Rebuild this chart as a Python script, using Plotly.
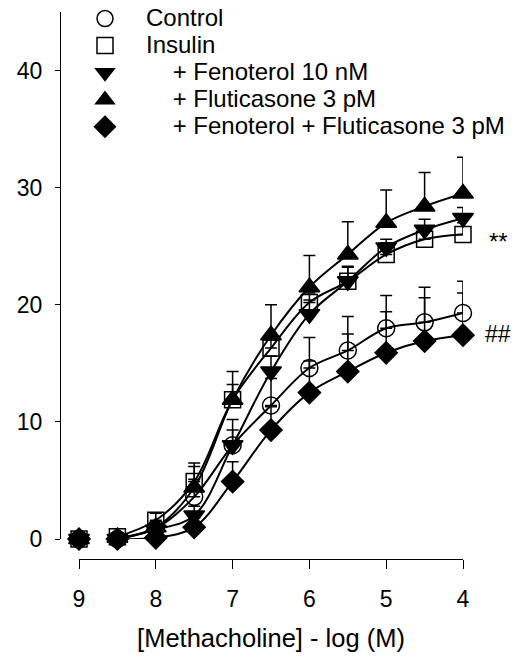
import plotly.graph_objects as go

# ---- data ----
log_conc = [9, 8.5, 8, 7.5, 7, 6.5, 6, 5.5, 5, 4.5, 4]

control = [0, 0, 0.9, 3.6, 8.0, 11.4, 14.6, 16.1, 18.0, 18.5, 19.3]
control_err = [0, 0, 0.4, 1.5, 2.2, 2.3, 2.6, 2.9, 2.8, 3.0, 2.7]

insulin = [0, 0.2, 1.6, 4.9, 11.9, 16.3, 20.2, 22.0, 24.3, 25.6, 26.0]
insulin_err = [0, 0.2, 0.6, 1.6, 1.3, 1.3, 0.8, 1.3, 1.0, 1.0, 1.0]

fenoterol = [0, 0, 0.8, 2.0, 8.0, 14.3, 19.2, 22.0, 24.9, 26.4, 27.4]
fenoterol_err = [0, 0, 0.3, 0.8, 1.3, 1.3, 1.2, 1.2, 0.7, 0.9, 0.9]

fluticasone = [0, 0.1, 1.0, 4.4, 11.9, 17.4, 21.5, 24.3, 27.0, 28.4, 29.5]
fluticasone_err = [0, 0.1, 0.5, 1.8, 2.4, 2.6, 2.7, 2.8, 2.8, 2.9, 3.1]

combo = [0, 0, 0.1, 1.0, 4.9, 9.3, 12.5, 14.3, 15.9, 16.9, 17.4]
combo_err = [0, 0, 0.2, 0.8, 1.7, 2.0, 2.7, 3.2, 3.5, 3.7, 3.6]

labels = ["Control", "Insulin",
          "\u00a0\u00a0\u00a0\u00a0+ Fenoterol 10 nM",
          "\u00a0\u00a0\u00a0\u00a0+ Fluticasone 3 pM",
          "\u00a0\u00a0\u00a0\u00a0+ Fenoterol + Fluticasone 3 pM"]
series = [control, insulin, fenoterol, fluticasone, combo]
errors = [control_err, insulin_err, fenoterol_err, fluticasone_err, combo_err]
symbols = ["circle-open", "square-open", "triangle-down", "triangle-up", "diamond"]
sizes = [17, 16, 18, 18, 17]

y_ticks = [0, 10, 20, 30, 40]
x_ticks = [9, 8, 7, 6, 5, 4]

FONT = "Liberation Sans, Arial, sans-serif"

fig = go.Figure()

# fitted curves (smooth lines through the means, from 8.5 onward)
for s in series:
    fig.add_trace(go.Scatter(
        x=log_conc[1:], y=s[1:], mode="lines",
        line=dict(color="black", width=2, shape="spline", smoothing=1.0),
        showlegend=False, hoverinfo="skip", cliponaxis=False))

for name, s, e, sym, sz in zip(labels, series, errors, symbols, sizes):
    fig.add_trace(go.Scatter(
        x=log_conc, y=s, mode="markers",
        name='<span style="font-size:24px">' + name + '</span>',
        marker=dict(symbol=sym, size=sz, color="black",
                    line=dict(color="black", width=1.5)),
        error_y=dict(type="data", array=e, arrayminus=[0] * len(e),
                     symmetric=False, color="black", thickness=1.5, width=6),
        cliponaxis=False))

fig.add_annotation(xref="paper", x=1.06, y=25.4, text="**", showarrow=False,
                   xanchor="left", yanchor="middle",
                   font=dict(size=24, color="black", family=FONT))
fig.add_annotation(xref="paper", x=1.05, y=17.5, text="##", showarrow=False,
                   xanchor="left", yanchor="middle",
                   font=dict(size=23, color="black", family=FONT))

W, H = 520, 666
ml, mr, mt, mb = 60, 57, 12, 107
pw = W - ml - mr
ph = H - mt - mb

fig.update_layout(
    width=W, height=H,
    margin=dict(l=ml, r=mr, t=mt, b=mb, autoexpand=False),
    paper_bgcolor="white", plot_bgcolor="white",
    font=dict(family=FONT, size=23, color="black"),
    xaxis=dict(domain=[19 / pw, 1], anchor="free", position=0,
               range=[9, 4], tickvals=x_ticks, ticktext=[str(t) for t in x_ticks],
               showline=True, linecolor="black", linewidth=1.3,
               ticks="outside", ticklen=9, tickwidth=1.3, tickcolor="black",
               showgrid=False, zeroline=False,
               ticklabelstandoff=10, tickfont=dict(size=23),
               title=dict(text="[Methacholine] - log (M)", standoff=18,
                          font=dict(size=25.5))),
    yaxis=dict(domain=[20 / ph, 1], anchor="free", position=0,
               range=[0, 45], tickvals=y_ticks, tickfont=dict(size=23),
               showline=True, linecolor="black", linewidth=1.3,
               ticks="outside", ticklen=5, tickwidth=1.3, tickcolor="black",
               showgrid=False, zeroline=False, ticklabelstandoff=8),
    legend=dict(xref="container", yref="container",
                x=64 / W, y=1.0, xanchor="left", yanchor="top",
                bgcolor="rgba(0,0,0,0)", font=dict(size=18.5),
                itemwidth=72, tracegroupgap=0),
    showlegend=True,
)

fig.write_html("out.html")
